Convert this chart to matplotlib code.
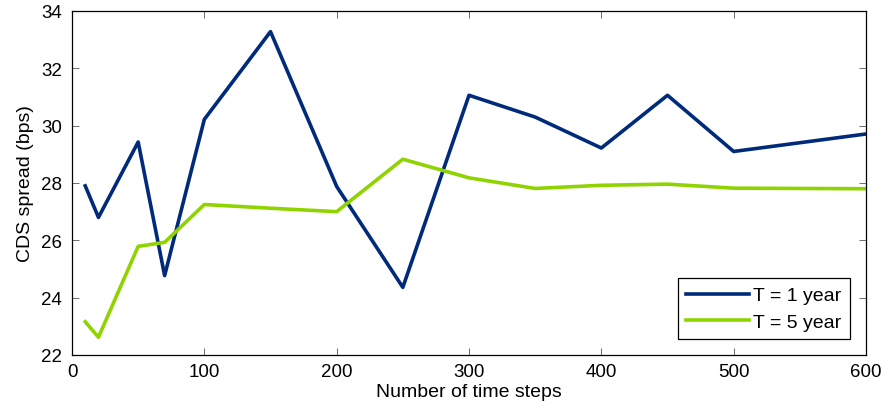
import matplotlib
matplotlib.use('Agg')
import matplotlib.pyplot as plt

# 时间步数与对应的 CDS 利差 (bps)
steps = [10, 20, 50, 70, 100, 150, 200, 250, 300, 350, 400, 450, 500, 600]
spread_1y = [27.9, 26.8, 29.43, 24.77, 30.22, 33.28, 27.88, 24.36, 31.06, 30.3, 29.22, 31.06, 29.1, 29.71]
spread_5y = [23.16, 22.62, 25.79, 25.93, 27.25, 27.12, 27.0, 28.83, 28.18, 27.81, 27.92, 27.96, 27.82, 27.8]

labels = ['T = 1 year', 'T = 5 year']
colors = ['#002A7A', '#8FD400']

plt.rcParams['font.family'] = ['Liberation Sans', 'DejaVu Sans']
fs = 14

fig = plt.figure(figsize=(8.85, 4.14), dpi=100)
ax = fig.add_axes([72 / 885, 58 / 414, 794 / 885, 344 / 414])

ax.plot(steps, spread_1y, color=colors[0], linewidth=2.6, label=labels[0])
ax.plot(steps, spread_5y, color=colors[1], linewidth=2.6, label=labels[1])

ax.set_xlim(0, 600)
ax.set_ylim(22, 34)
ax.set_xticks(range(0, 601, 100))
ax.set_yticks(range(22, 35, 2))
ax.tick_params(direction='in', top=True, right=True, length=5, width=0.6,
               color='#555555', labelsize=13.5)
ax.tick_params(axis='x', pad=6)
ax.tick_params(axis='y', pad=7)
for sp in ax.spines.values():
    sp.set_linewidth(0.9)

ax.set_xlabel('Number of time steps', fontsize=fs, labelpad=2)
ax.set_ylabel('CDS spread (bps)', fontsize=fs, labelpad=5)

leg = ax.legend(loc='lower right', fontsize=fs, fancybox=False, framealpha=1,
                edgecolor='black', borderaxespad=0.8, handlelength=3.2,
                handletextpad=0.25, labelspacing=0.45, borderpad=0.45)
leg.get_frame().set_linewidth(0.9)

fig.savefig('out.png', dpi=100)
